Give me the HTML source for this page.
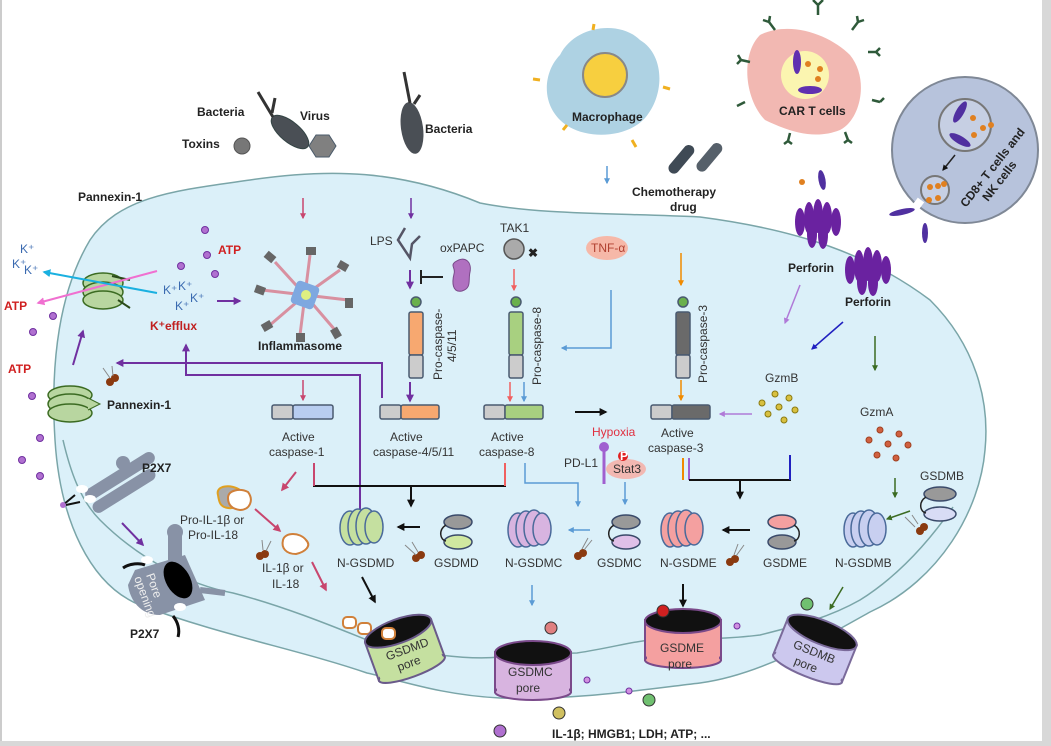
<!DOCTYPE html>
<html><head><meta charset="utf-8"><style>
html,body{margin:0;padding:0;background:#fff}
svg{display:block}
text{font-family:"Liberation Sans",sans-serif;font-size:12px;fill:#333}
.b{font-weight:bold;fill:#222}
</style></head><body>
<svg width="1051" height="746" viewBox="0 0 1051 746" xmlns="http://www.w3.org/2000/svg">
<defs>
<marker id="ap" viewBox="0 0 10 10" refX="8" refY="5" markerWidth="4" markerHeight="4" orient="auto"><path d="M0,0L10,5L0,10z" fill="#7030a0"/></marker>
<marker id="ak" viewBox="0 0 10 10" refX="8" refY="5" markerWidth="4" markerHeight="4" orient="auto"><path d="M0,0L10,5L0,10z" fill="#111"/></marker>
<marker id="ar" viewBox="0 0 10 10" refX="8" refY="5" markerWidth="4" markerHeight="4" orient="auto"><path d="M0,0L10,5L0,10z" fill="#c8466e"/></marker>
<marker id="ao" viewBox="0 0 10 10" refX="8" refY="5" markerWidth="4" markerHeight="4" orient="auto"><path d="M0,0L10,5L0,10z" fill="#f08a00"/></marker>
<marker id="as" viewBox="0 0 10 10" refX="8" refY="5" markerWidth="4" markerHeight="4" orient="auto"><path d="M0,0L10,5L0,10z" fill="#f06060"/></marker>
<marker id="abl" viewBox="0 0 10 10" refX="8" refY="5" markerWidth="4" markerHeight="4" orient="auto"><path d="M0,0L10,5L0,10z" fill="#5b9bd5"/></marker>
<marker id="al" viewBox="0 0 10 10" refX="8" refY="5" markerWidth="4" markerHeight="4" orient="auto"><path d="M0,0L10,5L0,10z" fill="#b07ad8"/></marker>
<marker id="an" viewBox="0 0 10 10" refX="8" refY="5" markerWidth="4" markerHeight="4" orient="auto"><path d="M0,0L10,5L0,10z" fill="#2020c0"/></marker>
<marker id="ag" viewBox="0 0 10 10" refX="8" refY="5" markerWidth="4" markerHeight="4" orient="auto"><path d="M0,0L10,5L0,10z" fill="#3b6b22"/></marker>
<marker id="ac" viewBox="0 0 10 10" refX="8" refY="5" markerWidth="4" markerHeight="4" orient="auto"><path d="M0,0L10,5L0,10z" fill="#1ab0e0"/></marker>
<marker id="am" viewBox="0 0 10 10" refX="8" refY="5" markerWidth="4" markerHeight="4" orient="auto"><path d="M0,0L10,5L0,10z" fill="#f070d0"/></marker>
</defs>
<rect x="0" y="0" width="1051" height="746" fill="#fff"/>
<rect x="0" y="0" width="2" height="746" fill="#ccc"/>
<rect x="1042" y="0" width="9" height="746" fill="#d8d8d8"/>
<rect x="0" y="741" width="1051" height="5" fill="#d8d8d8"/>
<path d="M55,440 C50,360 60,290 90,240 C120,195 180,190 250,180 C330,168 400,170 480,203 C540,215 620,213 700,217 C800,230 870,255 930,300 C975,345 990,400 985,450 C980,510 940,580 870,612 C820,640 760,675 700,683 C640,690 580,700 500,698 C440,695 400,680 367,673 C300,650 220,635 140,605 C90,585 60,520 55,440 Z" fill="#dbf0f9" stroke="#7aa5a8" stroke-width="1.5"/>
<path d="M63,440 C70,470 80,500 100,520 C140,560 190,585 233,593 C280,605 330,625 367,640 C420,655 470,660 500,657 C540,656 560,653 577,653 C610,648 630,642 650,640 C700,638 720,640 760,635 C800,625 830,617 860,600 C900,575 930,540 953,507" fill="none" stroke="#7aa5a8" stroke-width="1.5"/>
<text x="197" y="116" class="b">Bacteria</text>
<text x="300" y="120" class="b">Virus</text>
<text x="182" y="148" class="b">Toxins</text>
<text x="425" y="133" class="b">Bacteria</text>
<circle cx="242" cy="146" r="8" fill="#777" stroke="#555"/>
<polygon points="316,135 329,135 336,146 329,157 316,157 309,146" fill="#808080" stroke="#4a5a6a"/>
<ellipse cx="290" cy="132" rx="23" ry="10" transform="rotate(40 290 132)" fill="#4a4f55" stroke="#344"/>
<path d="M273,117 L258,92 M272,113 L275,98" stroke="#333" stroke-width="3" fill="none"/>
<ellipse cx="412" cy="128" rx="11" ry="26" transform="rotate(-8 412 128)" fill="#4a4f55"/>
<path d="M410,103 L404,72 M414,104 L420,95" stroke="#333" stroke-width="3" fill="none"/>
<path d="M560,55 C575,25 620,20 640,40 C665,55 665,95 645,118 C625,140 580,140 560,120 C540,100 545,70 560,55Z" fill="#aed2e3"/>
<circle cx="605" cy="75" r="22" fill="#f7cf3f" stroke="#888" stroke-width="2"/>
<text x="572" y="121" class="b">Macrophage</text>
<g stroke="#f0b020" stroke-width="3"><line x1="533" y1="79" x2="540" y2="80"/><line x1="663" y1="87" x2="670" y2="89"/><line x1="563" y1="130" x2="567" y2="125"/><line x1="632" y1="140" x2="636" y2="147"/><line x1="593" y1="30" x2="594" y2="24"/></g>
<line x1="607" y1="166" x2="607" y2="183" stroke="#5b9bd5" stroke-width="1.5" marker-end="url(#abl)"/>
<rect x="676" y="142" width="11" height="34" rx="5.5" transform="rotate(40 681 159)" fill="#3f4a55"/>
<rect x="704" y="140" width="11" height="34" rx="5.5" transform="rotate(40 709 157)" fill="#56606a"/>
<text x="632" y="196" class="b">Chemotherapy</text>
<text x="670" y="211" class="b">drug</text>
<path d="M760,35 C790,20 830,35 850,55 C870,80 860,120 840,130 C815,140 790,132 765,120 C745,100 740,55 760,35Z" fill="#f2b8b2"/>
<circle cx="805" cy="75" r="24" fill="#fbf5b0"/>
<ellipse cx="797" cy="62" rx="4" ry="12" fill="#6030b0"/><ellipse cx="810" cy="90" rx="12" ry="4" fill="#6030b0"/>
<circle cx="808" cy="64" r="3" fill="#e08020"/><circle cx="820" cy="69" r="3" fill="#e08020"/><circle cx="818" cy="79" r="3" fill="#e08020"/>
<text x="779" y="115" class="b">CAR T cells</text>
<g stroke="#2f5a3a" stroke-width="2.5" fill="none">
<path d="M818,15 v-10 M818,5 l-5,-5 M818,5 l5,-5"/><path d="M775,30 l-6,-8 M769,22 l-6,-2 M769,22 l1,-6"/>
<path d="M852,30 l6,-8 M858,22 l6,-2 M858,22 l-1,-6"/><path d="M750,62 l-9,-2 M741,60 l-3,-5 M741,60 l-4,4"/>
<path d="M868,52 l8,0 M876,52 l4,-4 M876,52 l4,4"/><path d="M745,102 l-8,4"/><path d="M872,100 l8,2 M880,102 l4,-4"/>
<path d="M790,133 l-2,8 M788,141 l-4,3 M788,141 l4,3"/><path d="M845,132 l3,8 M848,140 l-4,3 M848,140 l4,3"/>
</g>
<circle cx="965" cy="150" r="73" fill="#b7c3dc" stroke="#7f8896" stroke-width="2"/>
<circle cx="965" cy="125" r="26" fill="#c6cfe3" stroke="#777" stroke-width="2"/>
<ellipse cx="960" cy="112" rx="4" ry="12" transform="rotate(30 960 112)" fill="#5030a0"/><ellipse cx="960" cy="140" rx="12" ry="4" transform="rotate(30 960 140)" fill="#5030a0"/>
<circle cx="973" cy="118" r="3" fill="#e08020"/><circle cx="983" cy="128" r="3" fill="#e08020"/><circle cx="991" cy="125" r="3" fill="#e08020"/><circle cx="974" cy="135" r="3" fill="#e08020"/>
<circle cx="935" cy="190" r="14" fill="#c6cfe3" stroke="#777" stroke-width="2"/>
<path d="M921,200 L912,212" stroke="#fff" stroke-width="8"/>
<circle cx="930" cy="187" r="3" fill="#e08020"/><circle cx="938" cy="186" r="3" fill="#e08020"/><circle cx="944" cy="184" r="3" fill="#e08020"/><circle cx="929" cy="200" r="3" fill="#e08020"/><circle cx="938" cy="198" r="3" fill="#e08020"/>
<line x1="955" y1="155" x2="943" y2="170" stroke="#222" stroke-width="1.5" marker-end="url(#ak)"/>
<text class="b" transform="translate(966,208) rotate(-52)">CD8+ T cells and</text>
<text class="b" transform="translate(988,202) rotate(-52)">NK cells</text>
<ellipse cx="902" cy="212" rx="13" ry="3" transform="rotate(-12 902 212)" fill="#5030a0"/>
<ellipse cx="925" cy="233" rx="3" ry="10" fill="#5030a0"/>
<ellipse cx="822" cy="180" rx="3.5" ry="10" transform="rotate(-10 822 180)" fill="#5030a0"/>
<circle cx="802" cy="182" r="3" fill="#e08020"/>
<g fill="#6a22a0"><ellipse cx="800" cy="222" rx="5" ry="14"/><ellipse cx="809" cy="218" rx="5" ry="16"/><ellipse cx="818" cy="216" rx="5" ry="17"/><ellipse cx="827" cy="218" rx="5" ry="16"/><ellipse cx="836" cy="222" rx="5" ry="14"/><ellipse cx="812" cy="234" rx="5" ry="14"/><ellipse cx="823" cy="235" rx="5" ry="14"/></g>
<text x="788" y="272" class="b">Perforin</text>
<g fill="#6a22a0"><ellipse cx="850" cy="270" rx="5" ry="14"/><ellipse cx="859" cy="266" rx="5" ry="16"/><ellipse cx="868" cy="264" rx="5" ry="17"/><ellipse cx="877" cy="266" rx="5" ry="16"/><ellipse cx="886" cy="270" rx="5" ry="14"/><ellipse cx="862" cy="282" rx="5" ry="13"/><ellipse cx="873" cy="283" rx="5" ry="13"/></g>
<text x="845" y="306" class="b">Perforin</text>
<line x1="800" y1="285" x2="785" y2="323" stroke="#b07ad8" stroke-width="1.5" marker-end="url(#al)"/>
<line x1="843" y1="322" x2="812" y2="349" stroke="#2020c0" stroke-width="1.5" marker-end="url(#an)"/>
<line x1="875" y1="336" x2="875" y2="370" stroke="#3b6b22" stroke-width="1.5" marker-end="url(#ag)"/>
<text x="765" y="382">GzmB</text>
<g fill="#d8c040" stroke="#8a7a10"><circle cx="775" cy="394" r="3"/><circle cx="789" cy="398" r="3"/><circle cx="762" cy="403" r="3"/><circle cx="779" cy="407" r="3"/><circle cx="795" cy="410" r="3"/><circle cx="768" cy="414" r="3"/><circle cx="784" cy="420" r="3"/></g>
<text x="860" y="416">GzmA</text>
<g fill="#d06040" stroke="#a04020"><circle cx="880" cy="430" r="3"/><circle cx="899" cy="434" r="3"/><circle cx="869" cy="440" r="3"/><circle cx="888" cy="444" r="3"/><circle cx="908" cy="445" r="3"/><circle cx="877" cy="455" r="3"/><circle cx="896" cy="458" r="3"/></g>
<line x1="752" y1="414" x2="720" y2="414" stroke="#b07ad8" stroke-width="1.5" marker-end="url(#al)"/>
<text x="78" y="201" class="b">Pannexin-1</text>
<g fill="#b8d6a0" stroke="#3b6b22" stroke-width="1.5"><ellipse cx="103" cy="283" rx="20" ry="10"/><ellipse cx="103" cy="292" rx="20" ry="10"/><ellipse cx="103" cy="300" rx="20" ry="9"/></g>
<path d="M112,276 L130,280 M118,300 L130,308" stroke="#2a4a1a" stroke-width="2"/>
<line x1="157" y1="271" x2="38" y2="303" stroke="#f070d0" stroke-width="2" marker-end="url(#am)"/>
<line x1="157" y1="293" x2="44" y2="272" stroke="#1ab0e0" stroke-width="2" marker-end="url(#ac)"/>
<text x="20" y="253" style="fill:#3a6ab0" font-size="11">K⁺</text><text x="12" y="268" style="fill:#3a6ab0" font-size="11">K⁺</text><text x="24" y="274" style="fill:#3a6ab0" font-size="11">K⁺</text>
<text x="4" y="310" class="b" style="fill:#d02020">ATP</text>
<text x="218" y="254" class="b" style="fill:#d02020">ATP</text>
<text x="8" y="373" class="b" style="fill:#d02020">ATP</text>
<text x="163" y="294" style="fill:#3a6ab0" font-size="11">K⁺</text><text x="178" y="290" style="fill:#3a6ab0" font-size="11">K⁺</text><text x="190" y="302" style="fill:#3a6ab0" font-size="11">K⁺</text><text x="175" y="310" style="fill:#3a6ab0" font-size="11">K⁺</text>
<text x="150" y="330" class="b" style="fill:#c02020">K⁺efflux</text>
<line x1="217" y1="301" x2="240" y2="301" stroke="#7030a0" stroke-width="2" marker-end="url(#ap)"/>
<g fill="#b070d0" stroke="#7030a0"><circle cx="205" cy="230" r="3.5"/><circle cx="207" cy="255" r="3.5"/><circle cx="181" cy="266" r="3.5"/><circle cx="215" cy="274" r="3.5"/><circle cx="53" cy="316" r="3.5"/><circle cx="33" cy="332" r="3.5"/><circle cx="32" cy="396" r="3.5"/><circle cx="40" cy="438" r="3.5"/><circle cx="22" cy="460" r="3.5"/><circle cx="40" cy="476" r="3.5"/></g>
<line x1="73" y1="365" x2="83" y2="331" stroke="#7030a0" stroke-width="2" marker-end="url(#ap)"/>
<g fill="#b8d6a0" stroke="#3b6b22" stroke-width="1.5"><ellipse cx="70" cy="395" rx="22" ry="9"/><ellipse cx="70" cy="404" rx="22" ry="10"/><ellipse cx="70" cy="413" rx="22" ry="9"/></g>
<path d="M88,398 L100,404 L88,410" fill="#b8d6a0" stroke="#3b6b22"/>
<text x="107" y="409" class="b">Pannexin-1</text>
<g stroke="#d890a0" stroke-width="3"><line x1="305" y1="295" x2="275" y2="262"/><line x1="305" y1="295" x2="310" y2="255"/><line x1="305" y1="295" x2="340" y2="270"/><line x1="305" y1="295" x2="348" y2="300"/><line x1="305" y1="295" x2="335" y2="330"/><line x1="305" y1="295" x2="300" y2="335"/><line x1="305" y1="295" x2="270" y2="325"/><line x1="305" y1="295" x2="262" y2="290"/></g>
<rect x="293" y="283" width="24" height="24" rx="4" transform="rotate(20 305 295)" fill="#7ea8e0"/>
<circle cx="306" cy="295" r="5" fill="#e0f080"/>
<g fill="#666"><rect x="265" y="253" width="10" height="8" transform="rotate(40 270 257)"/><rect x="306" y="247" width="10" height="8"/><rect x="338" y="262" width="10" height="8" transform="rotate(30 343 266)"/><rect x="345" y="298" width="8" height="10"/><rect x="332" y="328" width="8" height="10" transform="rotate(-30 336 333)"/><rect x="296" y="333" width="9" height="9"/><rect x="262" y="322" width="10" height="8" transform="rotate(-30 267 326)"/><rect x="255" y="286" width="10" height="8" transform="rotate(20 260 290)"/></g>
<text x="258" y="350" class="b">Inflammasome</text>
<line x1="303" y1="198" x2="303" y2="218" stroke="#c8466e" stroke-width="1.5" marker-end="url(#ar)"/>
<line x1="411" y1="198" x2="411" y2="218" stroke="#7030a0" stroke-width="1.5" marker-end="url(#ap)"/>
<text x="370" y="245">LPS</text>
<path d="M405,228 L398,240 L410,258 L412,244 L420,236" stroke="#556" stroke-width="2.5" fill="none"/>
<line x1="410" y1="270" x2="410" y2="288" stroke="#7030a0" stroke-width="2" marker-end="url(#ap)"/>
<path d="M421,270 v14 M421,277 h22" stroke="#222" stroke-width="2"/>
<text x="440" y="252">oxPAPC</text>
<path d="M455,262 C465,255 472,262 470,272 C468,280 472,288 462,291 C452,293 452,282 454,274 C456,268 450,266 455,262Z" fill="#b070c0" stroke="#7a4a8a"/>
<text x="500" y="232">TAK1</text>
<circle cx="514" cy="249" r="10" fill="#aaa" stroke="#555" stroke-width="1.5"/>
<text x="528" y="257" class="b" font-size="18">✖</text>
<line x1="514" y1="269" x2="514" y2="290" stroke="#f06060" stroke-width="1.5" marker-end="url(#as)"/>
<ellipse cx="607" cy="248" rx="21" ry="12" fill="#f6b8a8"/>
<text x="591" y="252" style="fill:#b04030" font-size="11">TNF-α</text>
<path d="M611,290 V348 H562" stroke="#5b9bd5" stroke-width="1.5" fill="none" marker-end="url(#abl)"/>
<line x1="681" y1="253" x2="681" y2="285" stroke="#f08a00" stroke-width="1.5" marker-end="url(#ao)"/>
<g stroke="#4a5a70" stroke-width="1.5">
<circle cx="416" cy="302" r="5" fill="#6ab04c"/><rect x="409" y="312" width="14" height="43" rx="2" fill="#f7a870"/><rect x="409" y="355" width="14" height="23" rx="2" fill="#ccc"/>
<circle cx="516" cy="302" r="5" fill="#6ab04c"/><rect x="509" y="312" width="14" height="43" rx="2" fill="#a8d080"/><rect x="509" y="355" width="14" height="23" rx="2" fill="#ccc"/>
<circle cx="683" cy="302" r="5" fill="#6ab04c"/><rect x="676" y="312" width="14" height="43" rx="2" fill="#6a6a6a"/><rect x="676" y="355" width="14" height="23" rx="2" fill="#ccc"/>
</g>
<text transform="translate(442,380) rotate(-90)">Pro-caspase-</text>
<text transform="translate(456,362) rotate(-90)">4/5/11</text>
<text transform="translate(541,385) rotate(-90)">Pro-caspase-8</text>
<text transform="translate(707,383) rotate(-90)">Pro-caspase-3</text>
<line x1="410" y1="382" x2="410" y2="401" stroke="#7030a0" stroke-width="2" marker-end="url(#ap)"/>
<line x1="510" y1="382" x2="510" y2="401" stroke="#f06060" stroke-width="1.5" marker-end="url(#as)"/>
<line x1="524" y1="382" x2="524" y2="401" stroke="#5b9bd5" stroke-width="1.5" marker-end="url(#abl)"/>
<line x1="681" y1="380" x2="681" y2="400" stroke="#f08a00" stroke-width="1.5" marker-end="url(#ao)"/>
<line x1="303" y1="380" x2="303" y2="400" stroke="#c8466e" stroke-width="1.5" marker-end="url(#ar)"/>
<g stroke="#4a5a70" stroke-width="1.5">
<rect x="272" y="405" width="21" height="14" rx="2" fill="#ccc"/><rect x="293" y="405" width="40" height="14" rx="2" fill="#b8cdf0"/>
<rect x="380" y="405" width="21" height="14" rx="2" fill="#ccc"/><rect x="401" y="405" width="38" height="14" rx="2" fill="#f7a870"/>
<rect x="484" y="405" width="21" height="14" rx="2" fill="#ccc"/><rect x="505" y="405" width="38" height="14" rx="2" fill="#a8d080"/>
<rect x="651" y="405" width="21" height="14" rx="2" fill="#ccc"/><rect x="672" y="405" width="38" height="14" rx="2" fill="#6a6a6a"/>
</g>
<text x="282" y="441">Active</text><text x="269" y="456">caspase-1</text>
<text x="390" y="441">Active</text><text x="373" y="456">caspase-4/5/11</text>
<text x="491" y="441">Active</text><text x="479" y="456">caspase-8</text>
<text x="661" y="437">Active</text><text x="648" y="452">caspase-3</text>
<line x1="575" y1="412" x2="606" y2="412" stroke="#111" stroke-width="2" marker-end="url(#ak)"/>
<text x="592" y="436" style="fill:#e03040" font-size="11">Hypoxia</text>
<line x1="604" y1="447" x2="604" y2="484" stroke="#a060d0" stroke-width="3"/><circle cx="604" cy="447" r="5" fill="#a060d0"/>
<text x="564" y="467" font-size="11">PD-L1</text>
<ellipse cx="626" cy="469" rx="20" ry="10" fill="#f2b8b2"/>
<text x="613" y="473" font-size="11">Stat3</text>
<circle cx="623" cy="456" r="5" fill="#e02020"/><text x="620" y="460" style="fill:#fff" font-size="8" class="b">P</text>
<path d="M382,398 V363 H117" stroke="#7030a0" stroke-width="2" fill="none" marker-end="url(#ap)"/>
<path d="M360,510 V375 H186 V345" stroke="#7030a0" stroke-width="2" fill="none" marker-end="url(#ap)"/>
<path d="M314,463 V486 H505 V463" stroke="#111" stroke-width="2" fill="none"/>
<path d="M314,463 V486" stroke="#c8466e" stroke-width="2"/>
<path d="M505,463 V486" stroke="#f06060" stroke-width="2"/>
<line x1="411" y1="486" x2="411" y2="506" stroke="#111" stroke-width="2" marker-end="url(#ak)"/>
<path d="M525,463 V483 H578 V506" stroke="#5b9bd5" stroke-width="1.5" fill="none" marker-end="url(#abl)"/>
<line x1="625" y1="482" x2="625" y2="504" stroke="#5b9bd5" stroke-width="1.5" marker-end="url(#abl)"/>
<path d="M683,458 V480" stroke="#f08a00" stroke-width="2"/>
<path d="M689,458 V480" stroke="#a060d0" stroke-width="2"/>
<path d="M689,480 H790 V455" stroke="#111" stroke-width="2" fill="none"/>
<path d="M790,455 V480" stroke="#2020c0" stroke-width="2"/>
<line x1="740" y1="480" x2="740" y2="498" stroke="#111" stroke-width="2" marker-end="url(#ak)"/>
<g stroke="#4a6a9a" stroke-width="1.5">
<ellipse cx="350" cy="528" rx="10" ry="17" fill="#c5e0a0"/><ellipse cx="358" cy="527" rx="10" ry="18" fill="#c5e0a0"/><ellipse cx="366" cy="526" rx="10" ry="18" fill="#c5e0a0"/><ellipse cx="374" cy="527" rx="9" ry="16" fill="#c5e0a0"/>
<ellipse cx="518" cy="530" rx="10" ry="17" fill="#d8b4e0"/><ellipse cx="526" cy="529" rx="10" ry="18" fill="#d8b4e0"/><ellipse cx="534" cy="528" rx="10" ry="18" fill="#d8b4e0"/><ellipse cx="542" cy="529" rx="9" ry="16" fill="#d8b4e0"/>
<ellipse cx="670" cy="530" rx="9" ry="17" fill="#f4a0a0"/><ellipse cx="678" cy="529" rx="10" ry="18" fill="#f4a0a0"/><ellipse cx="686" cy="528" rx="10" ry="18" fill="#f4a0a0"/><ellipse cx="694" cy="529" rx="9" ry="16" fill="#f4a0a0"/>
<ellipse cx="853" cy="530" rx="9" ry="17" fill="#c8cff0"/><ellipse cx="861" cy="529" rx="10" ry="18" fill="#c8cff0"/><ellipse cx="869" cy="528" rx="10" ry="18" fill="#c8cff0"/><ellipse cx="877" cy="529" rx="9" ry="16" fill="#c8cff0"/>
</g>
<g stroke="#3a4a6a" stroke-width="1.5">
<ellipse cx="458" cy="522" rx="14" ry="7" fill="#999"/><ellipse cx="458" cy="542" rx="14" ry="7" fill="#d0e8a0"/><path d="M446,525 C438,530 440,540 446,541" fill="none" stroke="#222"/>
<ellipse cx="626" cy="522" rx="14" ry="7" fill="#999"/><ellipse cx="626" cy="542" rx="14" ry="7" fill="#e0c0e8"/><path d="M614,525 C606,530 608,540 614,541" fill="none" stroke="#222"/>
<ellipse cx="782" cy="522" rx="14" ry="7" fill="#f4a0a0"/><ellipse cx="782" cy="542" rx="14" ry="7" fill="#999"/><path d="M794,525 C802,530 800,540 794,541" fill="none" stroke="#222"/>
<ellipse cx="940" cy="494" rx="16" ry="7" fill="#999"/><ellipse cx="940" cy="514" rx="16" ry="7" fill="#d8dcf5"/><path d="M926,497 C918,502 920,512 926,513" fill="none" stroke="#222"/>
</g>
<text x="337" y="567">N-GSDMD</text><text x="434" y="567">GSDMD</text><text x="505" y="567">N-GSDMC</text><text x="597" y="567">GSDMC</text><text x="660" y="567">N-GSDME</text><text x="763" y="567">GSDME</text><text x="835" y="567">N-GSDMB</text><text x="920" y="480">GSDMB</text>
<line x1="420" y1="527" x2="398" y2="527" stroke="#111" stroke-width="2" marker-end="url(#ak)"/>
<line x1="590" y1="530" x2="569" y2="530" stroke="#5b9bd5" stroke-width="1.5" marker-end="url(#abl)"/>
<line x1="750" y1="530" x2="723" y2="530" stroke="#111" stroke-width="2" marker-end="url(#ak)"/>
<line x1="895" y1="478" x2="895" y2="497" stroke="#3b6b22" stroke-width="1.5" marker-end="url(#ag)"/>
<line x1="910" y1="511" x2="887" y2="519" stroke="#3b6b22" stroke-width="1.5" marker-end="url(#ag)"/>
<g fill="#8a3a10"><circle cx="416" cy="558" r="4"/><circle cx="421" cy="555" r="4"/><circle cx="578" cy="556" r="4"/><circle cx="583" cy="553" r="4"/><circle cx="730" cy="562" r="4"/><circle cx="735" cy="559" r="4"/><circle cx="920" cy="531" r="4"/><circle cx="924" cy="527" r="4"/><circle cx="260" cy="556" r="4"/><circle cx="265" cy="554" r="4"/><circle cx="110" cy="382" r="4"/><circle cx="115" cy="378" r="4"/></g>
<g stroke="#888" stroke-width="1"><path d="M416,555 L405,545 M418,552 L412,542"/><path d="M584,550 L592,540 M582,549 L588,538"/><path d="M736,556 L744,545 M734,555 L738,544"/><path d="M915,527 L905,517 M918,524 L912,515"/><path d="M266,551 L271,541 M263,550 L262,540"/><path d="M110,378 L103,368 M113,376 L112,366"/></g>
<path d="M218,495 C215,485 232,484 240,490 C245,498 238,510 228,508 C220,507 219,502 218,495Z" fill="#aaa" stroke="#e0a020" stroke-width="2"/>
<path d="M228,498 C228,490 240,488 248,492 C254,500 250,510 240,510 C232,509 228,505 228,498Z" fill="#fff" stroke="#d0803a" stroke-width="2"/>
<text x="180" y="524">Pro-IL-1β or</text><text x="188" y="539">Pro-IL-18</text>
<line x1="296" y1="472" x2="282" y2="490" stroke="#c8466e" stroke-width="2" marker-end="url(#ar)"/>
<line x1="255" y1="509" x2="280" y2="531" stroke="#c8466e" stroke-width="2" marker-end="url(#ar)"/>
<path d="M283,540 C285,532 300,532 306,540 C312,546 305,552 296,554 C286,554 281,548 283,540Z" fill="#fff" stroke="#d0803a" stroke-width="2"/>
<text x="262" y="572">IL-1β or</text><text x="272" y="588">IL-18</text>
<line x1="312" y1="562" x2="326" y2="590" stroke="#c8466e" stroke-width="2" marker-end="url(#ar)"/>
<line x1="362" y1="577" x2="375" y2="602" stroke="#111" stroke-width="2" marker-end="url(#ak)"/>
<rect x="343" y="617" width="13" height="11" rx="4" fill="#fff" stroke="#d0803a" stroke-width="2"/>
<rect x="358" y="623" width="13" height="11" rx="4" fill="#fff" stroke="#d0803a" stroke-width="2"/>
<g fill="#8892a6"><rect x="80" y="470" width="80" height="12" rx="6" transform="rotate(-32 120 476)"/><rect x="88" y="485" width="72" height="12" rx="6" transform="rotate(-32 124 491)"/><circle cx="123" cy="463" r="7"/></g>
<ellipse cx="82" cy="489" rx="6" ry="4" fill="#fff"/><ellipse cx="90" cy="499" rx="6" ry="4" fill="#fff"/>
<path d="M63,505 L75,495 M66,505 L80,502" stroke="#111" stroke-width="2"/><circle cx="63" cy="505" r="3" fill="#b070d0"/>
<text x="142" y="472" class="b">P2X7</text>
<line x1="122" y1="523" x2="143" y2="545" stroke="#7030a0" stroke-width="2" marker-end="url(#ap)"/>
<path d="M135,570 L185,555 L205,600 L160,615 C140,615 130,600 128,585Z" fill="#8892a6"/>
<circle cx="175" cy="532" r="8" fill="#8892a6"/><rect x="168" y="535" width="14" height="25" fill="#8892a6"/>
<ellipse cx="178" cy="580" rx="12" ry="20" transform="rotate(-30 178 580)" fill="#000"/>
<ellipse cx="147" cy="560" rx="6" ry="4" fill="#fff"/><ellipse cx="180" cy="607" rx="6" ry="4" fill="#fff"/>
<path d="M200,590 L225,593" stroke="#8892a6" stroke-width="6"/>
<path d="M123,568 C130,563 140,563 145,565 M173,616 C178,622 180,630 178,637" stroke="#111" stroke-width="3" fill="none"/>
<text transform="translate(146,575) rotate(70)" style="fill:#eee">Pore</text>
<text transform="translate(134,578) rotate(70)" style="fill:#eee">opening</text>
<text x="130" y="638" class="b">P2X7</text>
<g transform="rotate(-20 405 650)">
<rect x="370" y="630" width="70" height="40" fill="#c5e0a0" stroke="#6a5a8a" stroke-width="2"/>
<ellipse cx="405" cy="670" rx="35" ry="8" fill="#c5e0a0" stroke="#6a5a8a" stroke-width="2"/>
<rect x="372" y="640" width="66" height="30" fill="#c5e0a0"/>
<ellipse cx="405" cy="630" rx="35" ry="12" fill="#111" stroke="#6a5a8a" stroke-width="2"/>
<text x="385" y="654">GSDMD</text><text x="392" y="668">pore</text>
</g>
<rect x="382" y="628" width="13" height="11" rx="4" fill="#fff" stroke="#d0803a" stroke-width="2"/>
<rect x="495" y="652" width="76" height="40" fill="#d8b4e0" stroke="#7a4a8a" stroke-width="2"/>
<ellipse cx="533" cy="692" rx="38" ry="8" fill="#d8b4e0" stroke="#7a4a8a" stroke-width="2"/>
<rect x="497" y="665" width="72" height="27" fill="#d8b4e0"/>
<ellipse cx="533" cy="653" rx="38" ry="12" fill="#111" stroke="#7a4a8a" stroke-width="2"/>
<text x="508" y="676">GSDMC</text><text x="516" y="692">pore</text>
<rect x="645" y="620" width="76" height="40" fill="#f4a0a0" stroke="#7a4a8a" stroke-width="2"/>
<ellipse cx="683" cy="660" rx="38" ry="8" fill="#f4a0a0" stroke="#7a4a8a" stroke-width="2"/>
<rect x="647" y="632" width="72" height="28" fill="#f4a0a0"/>
<ellipse cx="683" cy="621" rx="38" ry="12" fill="#111" stroke="#7a4a8a" stroke-width="2"/>
<text x="660" y="652">GSDME</text><text x="668" y="668">pore</text>
<line x1="683" y1="584" x2="683" y2="606" stroke="#111" stroke-width="2" marker-end="url(#ak)"/>
<line x1="532" y1="585" x2="532" y2="605" stroke="#5b9bd5" stroke-width="1.5" marker-end="url(#abl)"/>
<g transform="rotate(22 815 650)">
<rect x="778" y="630" width="74" height="40" fill="#ccc8ee" stroke="#7a6a9a" stroke-width="2"/>
<ellipse cx="815" cy="670" rx="37" ry="8" fill="#ccc8ee" stroke="#7a6a9a" stroke-width="2"/>
<rect x="780" y="642" width="70" height="28" fill="#ccc8ee"/>
<ellipse cx="815" cy="631" rx="37" ry="12" fill="#111" stroke="#7a6a9a" stroke-width="2"/>
<text x="793" y="656">GSDMB</text><text x="800" y="671">pore</text>
</g>
<line x1="843" y1="587" x2="830" y2="609" stroke="#3b6b22" stroke-width="1.5" marker-end="url(#ag)"/>
<g stroke="#333"><circle cx="551" cy="628" r="6" fill="#e08080"/><circle cx="663" cy="611" r="6" fill="#d02020"/><circle cx="807" cy="604" r="6" fill="#70c070"/><circle cx="559" cy="713" r="6" fill="#d0c060"/><circle cx="649" cy="700" r="6" fill="#70c070"/><circle cx="500" cy="731" r="6" fill="#b070d0"/></g>
<g fill="#d090e0" stroke="#7030a0"><circle cx="587" cy="680" r="3"/><circle cx="629" cy="691" r="3"/><circle cx="737" cy="626" r="3"/></g>
<text x="552" y="738" class="b">IL-1β; HMGB1; LDH; ATP; ...</text>
</svg>
</body></html>
